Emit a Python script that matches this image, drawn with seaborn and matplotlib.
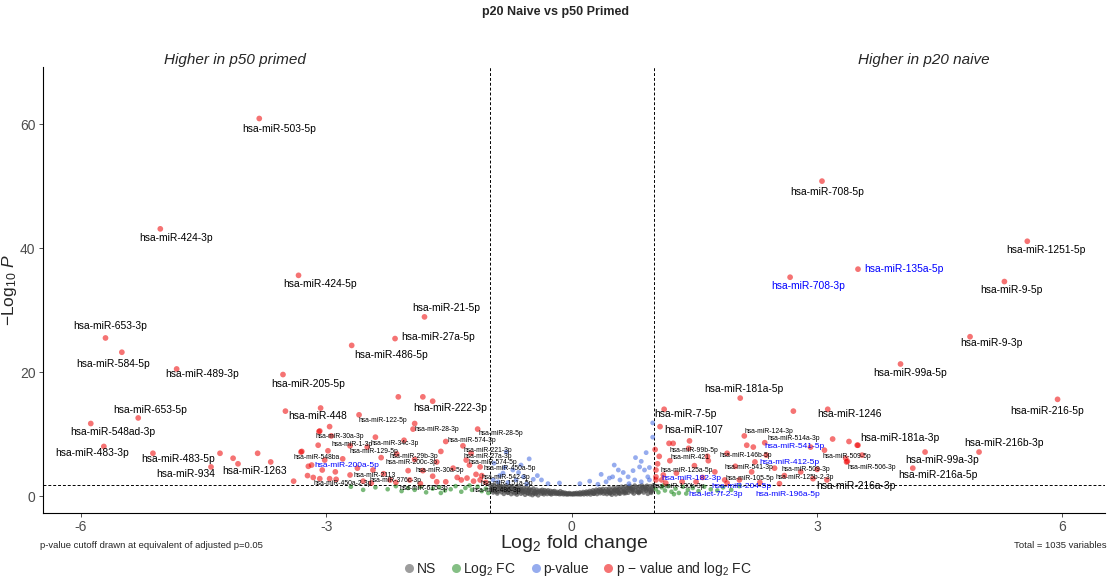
import matplotlib
matplotlib.use("Agg")
import matplotlib.pyplot as plt
from matplotlib.lines import Line2D
import numpy as np
import pandas as pd
import seaborn as sns

# ---------------------------------------------------------------------------
# Data: log2 fold change (p20 naive vs p50 primed) and -log10 P per miRNA
# ---------------------------------------------------------------------------
label_names = [
    "hsa-miR-503-5p", "hsa-miR-424-3p", "hsa-miR-424-5p", "hsa-miR-21-5p",
    "hsa-miR-27a-5p", "hsa-miR-486-5p", "hsa-miR-653-3p", "hsa-miR-584-5p",
    "hsa-miR-489-3p", "hsa-miR-205-5p", "hsa-miR-653-5p", "hsa-miR-548ad-3p",
    "hsa-miR-483-3p", "hsa-miR-483-5p", "hsa-miR-934", "hsa-miR-1263",
    "hsa-miR-448", "hsa-miR-222-3p",
    "hsa-miR-708-5p", "hsa-miR-1251-5p", "hsa-miR-135a-5p", "hsa-miR-708-3p",
    "hsa-miR-9-5p", "hsa-miR-9-3p", "hsa-miR-99a-5p", "hsa-miR-181a-5p",
    "hsa-miR-216-5p", "hsa-miR-7-5p", "hsa-miR-107", "hsa-miR-1246",
    "hsa-miR-181a-3p", "hsa-miR-216b-3p", "hsa-miR-99a-3p", "hsa-miR-216a-5p",
    "hsa-miR-216a-3p",
    "hsa-miR-541-5p", "hsa-miR-412-5p", "hsa-miR-182-3p", "hsa-miR-204-5p",
    "hsa-let-7f-2-3p", "hsa-miR-196a-5p", "hsa-miR-200a-5p",
    "hsa-miR-122-5p", "hsa-miR-28-3p", "hsa-miR-30a-3p", "hsa-miR-28-5p",
    "hsa-miR-574-3p", "hsa-miR-1-3p", "hsa-miR-34c-3p", "hsa-miR-129-5p",
    "hsa-miR-221-3p", "hsa-miR-548ba", "hsa-miR-29b-3p", "hsa-miR-27a-3p",
    "hsa-miR-200c-3p", "hsa-miR-574-5p", "hsa-miR-450a-5p", "hsa-miR-30a-5p",
    "hsa-miR-2113", "hsa-miR-542-3p", "hsa-miR-450a-2-3p", "hsa-miR-376c-3p",
    "hsa-miR-151a-5p", "hsa-miR-615-3p", "hsa-miR-486-3p",
    "hsa-miR-124-3p", "hsa-miR-514a-3p", "hsa-miR-99b-5p", "hsa-miR-146b-5p",
    "hsa-miR-509-5p", "hsa-miR-421", "hsa-miR-541-3p", "hsa-miR-506-3p",
    "hsa-miR-125a-5p", "hsa-miR-509-3p", "hsa-miR-125b-2-3p", "hsa-miR-105-5p",
    "hsa-miR-130b-3p",
]
label_fc = [
    -3.82, -5.03, -3.34, -1.80, -2.16, -2.69, -5.70, -5.50, -4.83, -3.53,
    -5.30, -5.88, -5.72, -5.12, -4.41, -3.68, -3.07, -1.70,
    3.06, 5.57, 3.50, 2.67, 5.29, 4.87, 4.02, 2.06, 5.94, 1.13, 1.08, 3.13,
    3.49, 4.98, 4.32, 4.17, 3.12,
    2.22, 2.38, 1.03, 1.87, 1.52, 2.54, -3.02,
    -2.60, -1.92, -3.08, -1.15, -1.54, -2.94, -2.40, -2.71, -1.33, -3.30,
    -2.14, -1.23, -2.33, -1.29, -1.12, -2.00, -2.43, -1.17, -3.08, -2.22,
    -1.12, -1.65, -1.35,
    2.11, 2.36, 1.19, 1.90, 3.09, 1.07, 2.24, 3.36, 1.03, 2.80, 2.95, 2.05,
    1.03,
]
label_nlp = [
    60.9, 43.1, 35.6, 28.9, 25.4, 24.3, 25.5, 23.2, 20.5, 19.6,
    12.6, 11.7, 8.0, 6.9, 4.7, 5.5, 14.2, 15.3,
    50.8, 41.1, 36.6, 35.3, 34.6, 25.7, 21.3, 15.8, 15.6, 14.0, 11.2, 14.0,
    8.2, 7.1, 7.1, 4.5, 2.6,
    7.9, 6.6, 3.1, 2.6, 2.3, 2.0, 5.8,
    13.1, 11.7, 10.5, 10.8, 8.8, 9.7, 9.5, 8.1, 8.1, 7.2,
    6.8, 6.9, 6.2, 5.8, 4.7, 4.1, 4.2, 3.5, 2.8, 2.6,
    2.6, 2.3, 2.6,
    9.7, 8.6, 8.5, 6.9, 7.4, 6.4, 5.5, 5.5, 4.2, 3.9, 2.8, 2.6,
    2.6,
]

# significant (fold change and p) without a label
sig_fc = [
    -4.30, -4.14, -4.08, -3.84, -3.50, -2.12, -1.82, -2.96, -1.94, -3.09,
    -2.98, -3.31, -3.22, -3.10, -3.05, -2.89, -3.23, -2.96, -3.18, -3.16,
    -2.88, -2.71, -1.65, -1.82, -1.98, -1.54, -1.40, -1.28, -1.20, -1.10,
    -1.05, -2.55, -2.30, -2.15, -1.85, -1.70, -1.45, -1.25, -1.60, -2.05,
    -2.50, -2.80, -2.45, -1.92, -3.40, -2.62,
    2.71, 1.24, 1.44, 2.14, 2.92, 3.19, 3.50, 3.39, 1.20, 1.43, 1.66, 1.67,
    2.48, 3.37, 1.10, 1.28, 1.75, 3.55, 3.35, 1.15, 1.35, 1.60, 2.30, 2.60,
    2.00, 1.05, 1.90, 3.00, 2.20, 1.50, 1.12, 1.02,
]
sig_nlp = [
    6.9, 6.1, 5.2, 6.9, 13.7, 16.0, 16.0, 11.2, 10.8, 10.4,
    7.3, 7.1, 4.8, 8.2, 4.2, 3.9, 3.3, 2.8, 5.0, 3.0,
    2.7, 3.4, 5.5, 4.1, 2.6, 2.3, 3.0, 2.9, 2.4, 3.3,
    2.2, 2.4, 3.6, 2.2, 2.0, 3.2, 4.5, 5.0, 7.2, 9.0,
    7.9, 6.0, 2.1, 5.9, 2.4, 4.5,
    13.7, 8.5, 8.9, 8.2, 7.9, 9.2, 8.2, 8.8, 5.7, 7.7, 6.4, 5.7,
    4.5, 5.6, 2.6, 3.7, 3.9, 6.6, 6.1, 2.1, 2.3, 3.0, 2.2, 3.3,
    4.8, 5.2, 2.1, 4.3, 3.9, 4.9, 3.4, 7.5,
]

# p below cutoff, fold change under 2x
pval_fc = [
    0.99, 0.99, 0.91, 0.85, 0.83, 0.89, 0.75, 0.57, 0.63, 0.69,
    0.46, 0.50, 0.59, 0.32, 0.42, 0.93, 0.95, 0.77,
    -0.52, -0.62, -0.72, -0.82, -0.84, -0.59, -0.47, -0.37, -0.96, -0.90,
    -0.68, -0.29, -0.80, -0.95, -0.88, -0.78, -0.55, -0.65, -0.42, -0.15,
    0.10, 0.22, 0.36, 0.52, 0.78, 0.95, 0.70, 0.85,
]
pval_nlp = [
    11.8, 9.5, 7.0, 5.6, 4.7, 4.2, 4.1, 4.2, 3.8, 3.1,
    2.9, 3.1, 2.6, 1.9, 2.3, 3.1, 2.6, 2.6,
    6.0, 5.0, 4.2, 4.6, 3.7, 3.1, 2.7, 2.6, 2.6, 2.3,
    2.6, 2.0, 7.1, 5.3, 3.3, 2.2, 2.0, 3.8, 3.3, 2.1,
    2.0, 2.4, 3.5, 5.0, 6.2, 4.6, 2.0, 2.3,
]

# fold change above 2x, p above cutoff
fc_fc = [
    -1.05, -1.10, -1.15, -1.22, -1.30, -1.35, -1.42, -1.48, -1.55, -1.62,
    -1.70, -1.78, -1.85, -1.92, -2.00, -2.08, -2.15, -2.25, -2.40, -2.55,
    -1.25, -1.60, -2.70, -1.02,
    1.03, 1.06, 1.10, 1.14, 1.18, 1.22, 1.27, 1.31, 1.36, 1.42, 1.48,
    1.55, 1.62, 1.70, 1.78, 1.85, 1.95, 2.05, 1.40, 1.12, 1.25,
]
fc_nlp = [
    1.2, 0.8, 1.5, 1.0, 1.3, 0.7, 1.6, 1.1, 0.9, 1.4,
    1.2, 0.6, 1.5, 1.0, 1.3, 0.8, 1.6, 1.1, 1.4, 1.0,
    1.7, 0.5, 1.5, 0.5,
    1.1, 0.6, 1.4, 0.9, 1.6, 0.7, 1.2, 0.5, 1.5, 1.0, 1.3,
    0.8, 1.5, 1.1, 0.9, 1.4, 1.0, 1.6, 0.4, 1.7, 0.3,
]

# not significant
ns_fc = [
    -0.99, -0.98, -0.97, -0.96, -0.95, -0.94, -0.93, -0.92, -0.91, -0.90,
    -0.89, -0.88, -0.87, -0.86, -0.85, -0.84, -0.83, -0.82, -0.81, -0.80,
    -0.79, -0.78, -0.77, -0.76, -0.75, -0.74, -0.73, -0.72, -0.71, -0.70,
    -0.69, -0.68, -0.67, -0.66, -0.65, -0.64, -0.63, -0.62, -0.61, -0.60,
    -0.59, -0.58, -0.57, -0.56, -0.55, -0.54, -0.53, -0.52, -0.51, -0.50,
    -0.49, -0.48, -0.47, -0.46, -0.45, -0.44, -0.43, -0.42, -0.41, -0.40,
    -0.39, -0.38, -0.37, -0.36, -0.35, -0.34, -0.33, -0.32, -0.31, -0.30,
    -0.29, -0.28, -0.27, -0.26, -0.25, -0.24, -0.23, -0.22, -0.21, -0.20,
    -0.19, -0.18, -0.17, -0.16, -0.15, -0.14, -0.13, -0.12, -0.11, -0.10,
    -0.09, -0.08, -0.07, -0.06, -0.05, -0.04, -0.03, -0.02, -0.01, 0.00,
    0.01, 0.02, 0.03, 0.04, 0.05, 0.06, 0.07, 0.08, 0.09, 0.10,
    0.11, 0.12, 0.13, 0.14, 0.15, 0.16, 0.17, 0.18, 0.19, 0.20,
    0.21, 0.22, 0.23, 0.24, 0.25, 0.26, 0.27, 0.28, 0.29, 0.30,
    0.31, 0.32, 0.33, 0.34, 0.35, 0.36, 0.37, 0.38, 0.39, 0.40,
    0.41, 0.42, 0.43, 0.44, 0.45, 0.46, 0.47, 0.48, 0.49, 0.50,
    0.51, 0.52, 0.53, 0.54, 0.55, 0.56, 0.57, 0.58, 0.59, 0.60,
    0.61, 0.62, 0.63, 0.64, 0.65, 0.66, 0.67, 0.68, 0.69, 0.70,
    0.71, 0.72, 0.73, 0.74, 0.75, 0.76, 0.77, 0.78, 0.79, 0.80,
    0.81, 0.82, 0.83, 0.84, 0.85, 0.86, 0.87, 0.88, 0.89, 0.90,
    0.91, 0.92, 0.93, 0.94, 0.95, 0.96, 0.97, 0.98, 0.99, 1.00,
    -0.97, -0.91, -0.86, -0.81, -0.74, -0.68, -0.63, -0.57, -0.52, -0.46,
    0.45, 0.52, 0.58, 0.64, 0.70, 0.75, 0.81, 0.86, 0.92, 0.97,
    -0.95, -0.88, -0.78, -0.70, -0.61, -0.53, -0.44, -0.35, -0.26, -0.17,
    0.18, 0.27, 0.36, 0.47, 0.56, 0.66, 0.73, 0.83, 0.90, 0.98,
]
ns_nlp = [
    1.62, 0.95, 1.31, 0.58, 1.71, 1.12, 0.77, 1.45, 0.41, 1.20,
    1.66, 0.88, 1.38, 0.62, 1.05, 1.54, 0.35, 1.26, 0.79, 1.68,
    1.02, 0.52, 1.44, 0.86, 1.19, 0.31, 1.58, 0.70, 1.09, 0.44,
    1.33, 0.92, 0.24, 1.21, 0.66, 1.47, 0.83, 0.38, 1.11, 0.57,
    1.29, 0.73, 0.21, 0.98, 1.36, 0.46, 0.81, 1.14, 0.29, 0.63,
    0.94, 0.15, 1.22, 0.52, 0.77, 0.33, 1.03, 0.60, 0.12, 0.85,
    0.62, 0.88, 0.39, 1.01, 0.71, 0.28, 0.94, 0.56, 0.77, 0.33,
    0.92, 0.64, 0.46, 0.83, 0.27, 0.59, 0.75, 0.38, 0.81, 0.51,
    0.35, 0.67, 0.42, 0.56, 0.30, 0.78, 0.34, 0.49, 0.61, 0.28,
    0.39, 0.53, 0.29, 0.44, 0.26, 0.35, 0.48, 0.31, 0.37, 0.29,
    0.38, 0.27, 0.46, 0.32, 0.34, 0.51, 0.29, 0.41, 0.31, 0.58,
    0.27, 0.47, 0.36, 0.65, 0.28, 0.54, 0.42, 0.72, 0.30, 0.61,
    0.47, 0.81, 0.26, 0.68, 0.53, 0.92, 0.37, 0.76, 0.59, 1.02,
    0.32, 0.86, 0.65, 1.08, 0.45, 0.94, 0.73, 1.15, 0.39, 0.81,
    0.58, 1.12, 0.32, 0.89, 0.66, 1.24, 0.41, 0.97, 0.22, 0.74,
    1.31, 0.51, 1.06, 0.28, 0.83, 1.42, 0.60, 1.15, 0.37, 0.92,
    1.50, 0.68, 1.22, 0.45, 1.01, 1.58, 0.77, 1.30, 0.53, 1.09,
    1.63, 0.85, 1.37, 0.62, 1.17, 0.40, 1.69, 0.94, 1.45, 0.71,
    1.24, 0.49, 1.56, 1.01, 0.78, 1.70, 1.29, 0.57, 1.13, 1.48,
    0.86, 1.66, 0.36, 1.21, 0.95, 1.59, 0.68, 1.36, 1.08, 1.73,
    1.05, 0.68, 1.50, 0.93, 1.27, 0.55, 1.00, 0.71, 0.99, 0.40,
    0.62, 0.88, 0.47, 0.73, 1.36, 0.97, 0.61, 1.40, 1.04, 0.52,
    0.82, 1.48, 0.58, 1.16, 0.90, 0.43, 0.68, 0.50, 0.40, 0.45,
    0.49, 0.38, 0.63, 0.55, 0.99, 0.48, 1.18, 0.66, 1.32, 0.86,
]

FC_CUTOFF = 1.0
P_CUTOFF = 1.75  # -log10 of the raw p equivalent to adjusted p = 0.05

group_order = ["NS", "Log2 FC", "p-value", "p - value and log2 FC"]
group_colours = {
    "NS": "#4d4d4d",
    "Log2 FC": "#228b22",
    "p-value": "#4169e1",
    "p - value and log2 FC": "#ee0000",
}
group_alpha = {"NS": 0.7, "Log2 FC": 0.6, "p-value": 0.55,
               "p - value and log2 FC": 0.55}
group_sizes = {"NS": 11, "Log2 FC": 11, "p-value": 12, "p - value and log2 FC": 17}

# label appearance: offset (px right, px down) from the point, size and colour
label_style = {
    "hsa-miR-503-5p": (20, 10, "L"), "hsa-miR-424-3p": (16, 9, "L"),
    "hsa-miR-424-5p": (22, 9, "L"), "hsa-miR-21-5p": (22, -9, "L"),
    "hsa-miR-27a-5p": (43, -2, "L"), "hsa-miR-486-5p": (39, 10, "L"),
    "hsa-miR-653-3p": (5, -12, "L"), "hsa-miR-584-5p": (-9, 12, "L"),
    "hsa-miR-489-3p": (25, 5, "L"), "hsa-miR-205-5p": (25, 9, "L"),
    "hsa-miR-653-5p": (12, -8, "L"), "hsa-miR-548ad-3p": (22, 8, "L"),
    "hsa-miR-483-3p": (-12, 7, "L"), "hsa-miR-483-5p": (25, 6, "L"),
    "hsa-miR-934": (-25, 7, "L"), "hsa-miR-1263": (-16, 9, "L"),
    "hsa-miR-448": (-3, 8, "L"), "hsa-miR-222-3p": (18, 7, "L"),
    "hsa-miR-708-5p": (5, 11, "L"), "hsa-miR-1251-5p": (19, 9, "L"),
    "hsa-miR-135a-5p": (46, 0, "B"), "hsa-miR-708-3p": (18, 9, "B"),
    "hsa-miR-9-5p": (7, 8, "L"), "hsa-miR-9-3p": (21, 6, "L"),
    "hsa-miR-99a-5p": (10, 9, "L"), "hsa-miR-181a-5p": (4, -9, "L"),
    "hsa-miR-216-5p": (-10, 12, "L"), "hsa-miR-7-5p": (21, 5, "L"),
    "hsa-miR-107": (34, 3, "L"), "hsa-miR-1246": (22, 5, "L"),
    "hsa-miR-181a-3p": (43, -7, "L"), "hsa-miR-216b-3p": (25, -9, "L"),
    "hsa-miR-99a-3p": (17, 8, "L"), "hsa-miR-216a-5p": (25, 7, "L"),
    "hsa-miR-216a-3p": (29, 6, "L"),
    "hsa-miR-541-5p": (41, -1, "M"), "hsa-miR-412-5p": (23, 7, "M"),
    "hsa-miR-182-3p": (35, 2, "M"), "hsa-miR-204-5p": (17, 7, "M"),
    "hsa-let-7f-2-3p": (20, 13, "M"), "hsa-miR-196a-5p": (8, 11, "M"),
    "hsa-miR-200a-5p": (22, 5, "M"),
    "hsa-miR-122-5p": (24, 6, "S"), "hsa-miR-28-3p": (22, 6, "S"),
    "hsa-miR-30a-3p": (20, 6, "S"), "hsa-miR-28-5p": (23, 4, "S"),
    "hsa-miR-574-3p": (26, -1, "S"), "hsa-miR-1-3p": (21, 9, "S"),
    "hsa-miR-34c-3p": (19, 6, "S"), "hsa-miR-129-5p": (24, 6, "S"),
    "hsa-miR-221-3p": (25, 5, "S"), "hsa-miR-548ba": (15, 6, "S"),
    "hsa-miR-29b-3p": (17, 3, "S"), "hsa-miR-27a-3p": (17, 3, "S"),
    "hsa-miR-200c-3p": (30, 5, "S"), "hsa-miR-574-5p": (27, 2, "S"),
    "hsa-miR-450a-5p": (30, 2, "S"), "hsa-miR-30a-5p": (32, 0, "S"),
    "hsa-miR-2113": (2, 5, "S"), "hsa-miR-542-3p": (30, 3, "S"),
    "hsa-miR-450a-2-3p": (23, 5, "S"), "hsa-miR-376c-3p": (5, 1, "S"),
    "hsa-miR-151a-5p": (27, 4, "S"), "hsa-miR-615-3p": (-13, 7, "S"),
    "hsa-miR-486-3p": (35, 11, "S"),
    "hsa-miR-124-3p": (25, -4, "S"), "hsa-miR-514a-3p": (29, -4, "S"),
    "hsa-miR-99b-5p": (25, 7, "S"), "hsa-miR-146b-5p": (19, 2, "S"),
    "hsa-miR-509-5p": (22, 6, "S"), "hsa-miR-421": (31, 1, "S"),
    "hsa-miR-541-3p": (-6, 6, "S"), "hsa-miR-506-3p": (25, 6, "S"),
    "hsa-miR-125a-5p": (31, 0, "S"), "hsa-miR-509-3p": (5, -2, "S"),
    "hsa-miR-125b-2-3p": (-8, -1, "S"), "hsa-miR-105-5p": (10, -1, "S"),
    "hsa-miR-130b-3p": (23, 7, "S"),
}
label_fonts = {"L": (7.4, "black"), "B": (7.4, "#0000ff"),
               "M": (6.0, "#0000ff"), "S": (4.9, "black")}

# ---------------------------------------------------------------------------
# Assemble the table and classify each miRNA as EnhancedVolcano does
# ---------------------------------------------------------------------------
df = pd.DataFrame({
    "log2FC": label_fc + sig_fc + pval_fc + fc_fc + ns_fc,
    "nlogP": label_nlp + sig_nlp + pval_nlp + fc_nlp + ns_nlp,
})
big_fc = df["log2FC"].abs() > FC_CUTOFF
small_p = df["nlogP"] > P_CUTOFF
df["group"] = np.select(
    [big_fc & small_p, small_p, big_fc],
    ["p - value and log2 FC", "p-value", "Log2 FC"],
    default="NS",
)

sns.set_theme(style="white")
plt.rcParams["font.family"] = ["Liberation Sans", "DejaVu Sans"]
plt.rcParams["mathtext.fontset"] = "custom"
plt.rcParams["mathtext.rm"] = "Liberation Sans"
plt.rcParams["mathtext.it"] = "Liberation Sans:italic"

fig = plt.figure(figsize=(11.10, 5.83), dpi=100)
ax = fig.add_axes([0.0383, 0.120, 0.9572, 0.765])

for g in group_order:
    sub = df[df["group"] == g]
    sns.scatterplot(data=sub, x="log2FC", y="nlogP", ax=ax,
                    color=group_colours[g], s=group_sizes[g],
                    alpha=group_alpha[g], edgecolor="none", linewidth=0,
                    legend=False, zorder=3)

# cut-off lines
line_kw = dict(color="black", linewidth=0.7, linestyle=(0, (3, 2)), zorder=2)
ax.axvline(-FC_CUTOFF, **line_kw)
ax.axvline(FC_CUTOFF, **line_kw)
ax.axhline(P_CUTOFF, **line_kw)

# point labels
for name, fc, nlp in zip(label_names, label_fc, label_nlp):
    dx, dy, kind = label_style[name]
    size, colour = label_fonts[kind]
    ax.annotate(name, (fc, nlp), xytext=(dx, -dy), textcoords="offset pixels",
                ha="center", va="center", fontsize=size, color=colour,
                zorder=4)

ax.set_xlim(-6.47, 6.52)
ax.set_ylim(-2.74, 69.2)
ax.set_xticks([-6, -3, 0, 3, 6])
ax.set_xticklabels(["-6", "-3", "0", "3", "6"])
ax.set_yticks([0, 20, 40, 60])

for side in ["top", "right"]:
    ax.spines[side].set_visible(False)
for side in ["left", "bottom"]:
    ax.spines[side].set_color("black")
    ax.spines[side].set_linewidth(0.8)
ax.tick_params(axis="both", which="major", length=3, width=0.6, color="#333333",
               labelsize=10, labelcolor="#4d4d4d", left=True, bottom=True,
               pad=2)

ax.set_xlabel("Log$_2$ fold change", fontsize=14)
ax.xaxis.set_label_coords(0.5, -0.044)
ax.set_ylabel("$-$Log$_{10}$ $\\it{P}$", fontsize=12.5)
ax.yaxis.set_label_coords(-0.022, 0.5)

# titles and captions
fig.text(0.5, 0.979, "p20 Naive vs p50 Primed", ha="center", va="center",
         fontsize=9, fontweight="bold")
fig.text(0.2117, 0.897, "Higher in p50 primed", ha="center", va="center",
         fontsize=11, style="italic")
fig.text(0.8324, 0.897, "Higher in p20 naive", ha="center", va="center",
         fontsize=11, style="italic")
fig.text(0.036, 0.065, "p-value cutoff drawn at equivalent of adjusted p=0.05",
         ha="left", va="center", fontsize=6.8)
fig.text(0.997, 0.065, "Total = 1035 variables", ha="right", va="center",
         fontsize=6.8)

legend_labels = ["NS", "Log$_2$ FC", "p-value", "p $-$ value and log$_2$ FC"]
handles = [Line2D([0], [0], marker="o", linestyle="none", markersize=6.5,
                  markerfacecolor=group_colours[g], markeredgecolor="none",
                  alpha=0.55) for g in group_order]
fig.legend(handles, legend_labels, loc="center", bbox_to_anchor=(0.52, 0.024),
           ncol=4, frameon=False, fontsize=10, handletextpad=0.05,
           columnspacing=0.9, handlelength=1.0)

fig.savefig("out.png", dpi=100)
